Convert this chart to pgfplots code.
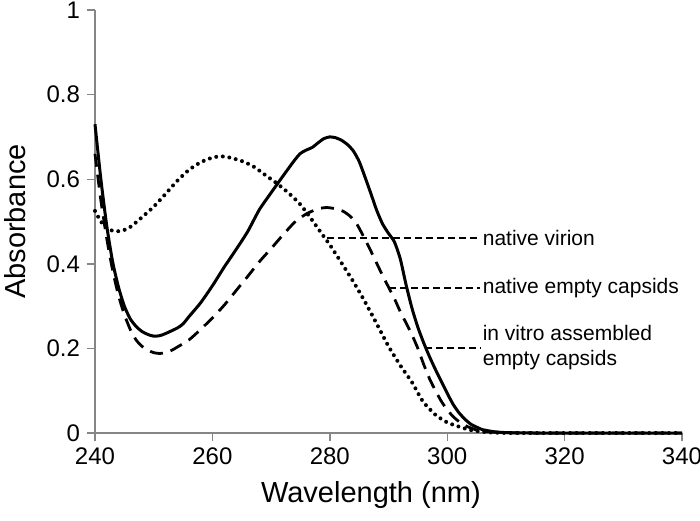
\documentclass[border=0pt]{standalone}
\usepackage{fontspec}
\setmainfont{Liberation Sans}
\usepackage{pgfplots}
\pgfplotsset{compat=1.18}
\definecolor{axisgray}{HTML}{868686}

\begin{document}
\begin{tikzpicture}
\useasboundingbox (-47.5pt,-43.5pt) rectangle (302.5pt,216.5pt);
\begin{axis}[
  scale only axis, width=293.5pt, height=211.5pt,
  xmin=240, xmax=340, ymin=0, ymax=1,
  axis x line=bottom, axis y line=left,
  axis line style={-, draw=axisgray, line width=0.7pt},
  tick style={draw=axisgray, line width=0.7pt},
  tick align=outside, major tick length=4pt,
  xtick={240,260,...,340},
  ytick={0,0.2,0.4,0.6,0.8,1},
  yticklabels={0,0.2,0.4,0.6,0.8,1},
  /pgf/number format/assume math mode=true,
  tick label style={font=\fontsize{12}{14}\selectfont},
  label style={font=\fontsize{14.5}{17}\selectfont},
  xlabel={Wavelength (nm)},
  ylabel={Absorbance},
  xlabel style={at={(axis description cs:0.47,-0.147)}, anchor=center},
  ylabel style={at={(axis description cs:-0.136,0.5)}, anchor=center, rotate=0},
  clip=false,
]
% native virion (solid)
\addplot[black, line width=1.5pt, line join=round, smooth, tension=0.4] coordinates {
(240,0.730) (241,0.600) (242,0.490) (243,0.405) (244,0.345) (245,0.300)
(246,0.270) (247,0.252) (248,0.240) (249,0.233) (250,0.229) (251,0.230)
(252,0.235) (254,0.248) (255,0.258) (256,0.275) (258,0.308) (260,0.348)
(262,0.392) (264,0.433) (266,0.476) (268,0.528) (270,0.568) (272,0.607)
(274,0.645) (275,0.661) (276,0.669) (277,0.675) (278,0.686) (279,0.696)
(280,0.700) (281,0.698) (282,0.692) (283,0.682) (284,0.667) (285,0.642)
(286,0.605) (287,0.566) (288,0.526) (289,0.494) (290,0.472) (291,0.452)
(292,0.412) (293,0.350) (294,0.295) (295,0.250) (296,0.213) (297,0.180)
(298,0.150) (299,0.122) (300,0.094) (301,0.068) (302,0.048) (303,0.033)
(304,0.021) (305,0.014) (306,0.008) (308,0.003) (310,0.001) (315,0) (340,0)
};
% native empty capsids (dashed)
\addplot[black, line width=1.4pt, dash pattern=on 6.5pt off 4pt, smooth, tension=0.4] coordinates {
(240,0.660) (241,0.550) (242,0.460) (243,0.385) (244,0.325) (245,0.280)
(246,0.245) (247,0.220) (248,0.205) (249,0.196) (250,0.190) (251,0.188)
(252,0.190) (253,0.195) (254,0.203) (256,0.220) (258,0.245) (260,0.272)
(262,0.302) (264,0.336) (266,0.370) (268,0.405) (270,0.436) (272,0.468)
(274,0.498) (276,0.518) (278,0.530) (279.5,0.533) (281,0.530) (282.3,0.524)
(283.5,0.512) (284.6,0.494) (286,0.458) (287,0.430) (288,0.401) (289,0.372)
(290,0.345) (291,0.318) (292,0.287) (293,0.260) (294,0.232) (295,0.200)
(296,0.162) (297,0.128) (298,0.100) (299,0.075) (300,0.055) (301,0.039)
(302,0.027) (303,0.018) (304,0.012) (305,0.007) (306,0.004) (308,0.002)
(310,0.001) (315,0) (340,0)
};
% in vitro assembled empty capsids (dotted)
\addplot[black, line width=2pt, line cap=round, dash pattern=on 0pt off 3.3pt, smooth, tension=0.4] coordinates {
(240,0.525) (241,0.500) (242,0.485) (243,0.478) (244,0.477) (245,0.480)
(246,0.487) (247,0.498) (248,0.510) (250,0.535) (252,0.565) (254,0.596)
(256,0.622) (258,0.640) (260,0.651) (261.5,0.654) (263,0.651) (265,0.643)
(267,0.630) (269,0.610) (271,0.590) (273,0.567) (275,0.540) (277,0.503)
(279,0.464) (280,0.445) (282,0.402) (284,0.358) (286,0.310) (288,0.258)
(290,0.205) (292,0.160) (294,0.120) (295,0.095) (296,0.072) (298,0.043)
(300,0.025) (302,0.015) (304,0.007) (306,0.003) (308,0.001) (312,0) (340,0)
};
% leader lines
\addplot[black, line width=0.6pt, dash pattern=on 3.5pt off 2pt] coordinates {(279.5,0.461) (305.6,0.461)};
\addplot[black, line width=0.6pt, dash pattern=on 3.5pt off 2pt] coordinates {(290.1,0.343) (305.6,0.343)};
\addplot[black, line width=0.6pt, dash pattern=on 3.5pt off 2pt] coordinates {(296.2,0.201) (305.6,0.201)};
\node[anchor=west, inner sep=0pt, font=\fontsize{10.5}{12.5}\selectfont] at (axis cs:306,0.461) {native virion};
\node[anchor=west, inner sep=0pt, font=\fontsize{10.5}{12.5}\selectfont] at (axis cs:306,0.343) {native empty capsids};
\node[anchor=west, inner sep=0pt, align=left, font=\fontsize{10.5}{12.5}\selectfont] at (axis cs:306,0.201) {in vitro assembled\\empty capsids};
\end{axis}
\end{tikzpicture}
\end{document}
